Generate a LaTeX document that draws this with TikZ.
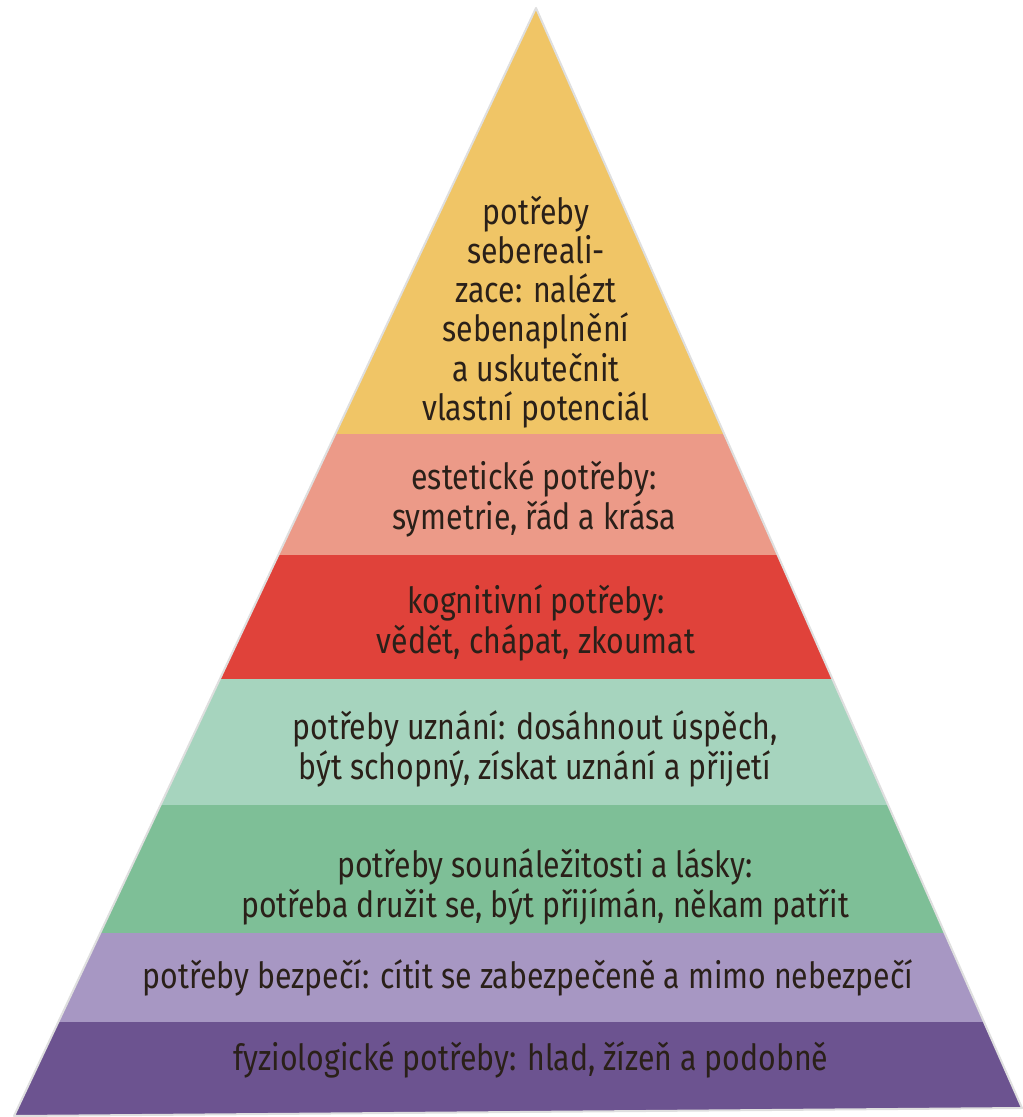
\documentclass[tikz,border=0pt]{standalone}
\usepackage{fontspec}
\setmainfont[FakeStretch=0.84]{Fira Sans}
\definecolor{cYellow}{HTML}{F0C566}
\definecolor{cPink}{HTML}{EC9A88}
\definecolor{cRed}{HTML}{E0423A}
\definecolor{cLightGreen}{HTML}{A6D4BE}
\definecolor{cGreen}{HTML}{7EBF97}
\definecolor{cLavender}{HTML}{A797C3}
\definecolor{cPurple}{HTML}{6C5390}
\definecolor{txt}{HTML}{2A2019}
\begin{document}
\begin{tikzpicture}[x=0.5pt,y=-0.5pt,
  lbl/.style={font=\fontsize{18}{19.6}\selectfont, text=txt, align=center, inner sep=0pt},
  edge/.style={draw=gray!25, line width=1pt, line join=round}]
\useasboundingbox (0,0) rectangle (1022,1117);
\coordinate (apex) at (536,8);
\coordinate (br) at (1022,1108);
\coordinate (bl) at (14,1116);
\begin{scope}
  \clip (apex) -- (br) -- (bl) -- cycle;
  \fill[cYellow] (0,0) rectangle (1022,434);
  \fill[cPink] (0,434) rectangle (1022,555);
  \fill[cRed] (0,555) rectangle (1022,679);
  \fill[cLightGreen] (0,679) rectangle (1022,805);
  \fill[cGreen] (0,805) rectangle (1022,933);
  \fill[cLavender] (0,933) rectangle (1022,1022);
  \fill[cPurple] (0,1022) rectangle (1022,1117);
\end{scope}
\draw[edge] (apex) -- (br) -- (bl) -- cycle;
\node[lbl] (self) at (536,312) {potřeby\\sebereali-\\zace: nalézt\\sebenaplnění\\a uskutečnit\\vlastní potenciál};
\node[lbl] (aest) at (534,499) {estetické potřeby:\\symetrie, řád a krása};
\node[lbl] (cogn) at (536,623) {kognitivní potřeby:\\vědět, chápat, zkoumat};
\node[lbl] (este) at (535,749) {potřeby uznání: dosáhnout úspěch,\\být schopný, získat uznání a přijetí};
\node[lbl] (love) at (545,887) {potřeby sounáležitosti a lásky:\\potřeba družit se, být přijímán, někam patřit};
\node[lbl] (safe) at (528,978) {potřeby bezpečí: cítit se zabezpečeně a mimo nebezpečí};
\node[lbl] (phys) at (531,1060) {fyziologické potřeby: hlad, žízeň a podobně};
\end{tikzpicture}
\end{document}
